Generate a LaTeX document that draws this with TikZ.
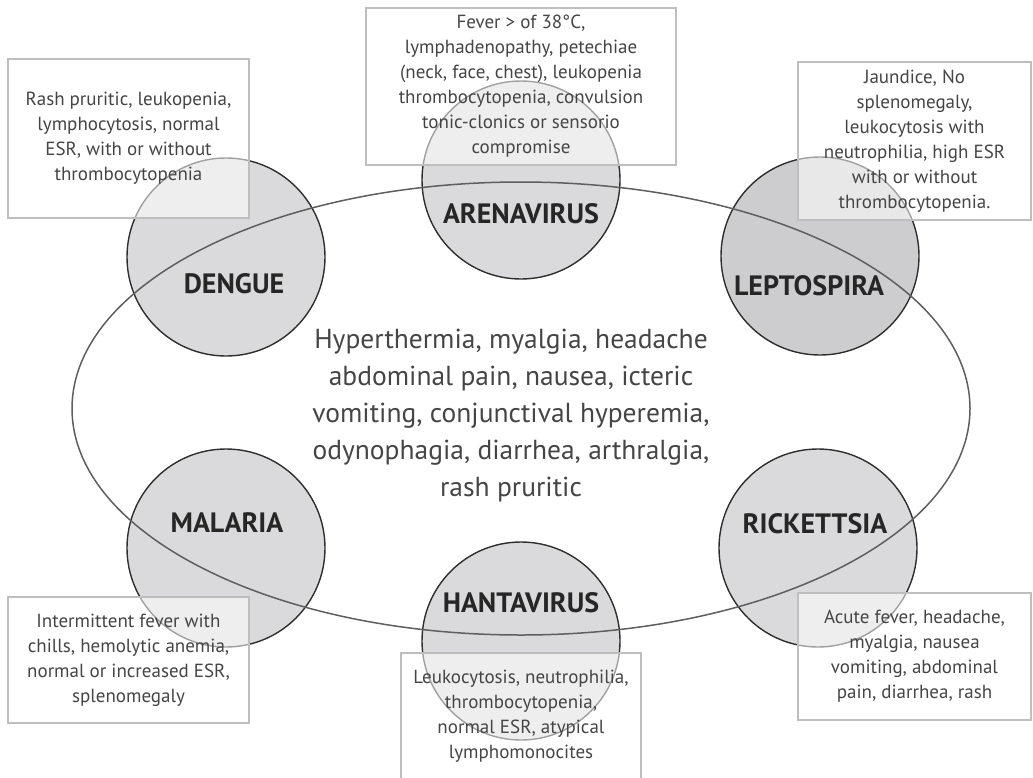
\documentclass[tikz,border=0pt]{standalone}
\usepackage{fontspec}
\setmainfont{PT Sans}
\usetikzlibrary{positioning}

\definecolor{discfill}{HTML}{DADADC}
\definecolor{leptofill}{HTML}{CDCDCF}
\definecolor{rimgrey}{HTML}{2E2E2E}
\definecolor{ovalgrey}{HTML}{5E5E5E}
\definecolor{framegrey}{HTML}{BEBEBE}
\definecolor{inkgrey}{HTML}{454545}

\tikzset{
  disc/.style={circle, draw=rimgrey, line width=1.4pt, fill=discfill,
    minimum size=198pt, inner sep=0pt},
  tag/.style={font=\fontsize{28}{32}\selectfont\bfseries, text=black!85},
  infobox/.style={draw=framegrey, line width=1.2pt, fill=white,
    fill opacity=0.55, text opacity=1, text=inkgrey, align=center,
    font=\fontsize{19}{25}\selectfont, inner sep=0pt},
}

\begin{document}
\begin{tikzpicture}[x=1pt, y=-1pt]
  \useasboundingbox (0,0) rectangle (1033,777);

  % the six agents
  \node[disc] (dengue) at (226,257) {};
  \node[disc] (arena) at (521,180) {};
  \node[disc, fill=leptofill] (lepto) at (820,256) {};
  \node[disc] (malaria) at (226,548) {};
  \node[disc] (hanta) at (521,641) {};
  \node[disc] (ricket) at (818,548) {};

  % shared symptoms
  \draw[ovalgrey, line width=1.5pt] (521,408.5) ellipse [x radius=449pt, y radius=226.5pt];
  \node[font=\fontsize{27.5}{37}\selectfont, text=inkgrey, align=center] (common) at (511,416)
    {Hyperthermia, myalgia, headache\\
     abdominal pain, nausea, icteric\\
     vomiting, conjunctival hyperemia,\\
     odynophagia, diarrhea, arthralgia,\\
     rash pruritic};

  \node[tag] (denguetag) at (234,284) {DENGUE};
  \node[tag] (arenatag) at (521,214) {ARENAVIRUS};
  \node[tag] (leptotag) at (809,286) {LEPTOSPIRA};
  \node[tag] (malariatag) at (227,523) {MALARIA};
  \node[tag] (hantatag) at (521,603) {HANTAVIRUS};
  \node[tag] (ricketag) at (815,524) {RICKETTSIA};

  % findings for each agent
  \node[infobox, minimum width=241pt, minimum height=159pt] (dengueinfo) at (128.5,138.5)
    {Rash pruritic, leukopenia,\\ lymphocytosis, normal\\ ESR, with or without\\ thrombocytopenia};
  \node[infobox, minimum width=310pt, minimum height=157pt] (arenainfo) at (521,86.5)
    {Fever > of 38\textdegree C,\\ lymphadenopathy, petechiae\\ (neck, face, chest), leukopenia\\
     thrombocytopenia, convulsion\\ tonic-clonics or sensorio\\ compromise};
  \node[infobox, minimum width=233pt, minimum height=158pt] (leptoinfo) at (914.5,141)
    {Jaundice, No\\ splenomegaly,\\ leukocytosis with\\ neutrophilia, high ESR\\
     with or without\\ thrombocytopenia.};
  \node[infobox, minimum width=241pt, minimum height=126pt] (malariainfo) at (128.5,660)
    {Intermittent fever with\\ chills, hemolytic anemia,\\ normal or increased ESR,\\ splenomegaly};
  \node[infobox, minimum width=240pt, minimum height=126pt] (hantainfo) at (521,716)
    {Leukocytosis, neutrophilia,\\ thrombocytopenia,\\ normal ESR, atypical\\ lymphomonocites};
  \node[infobox, minimum width=233pt, minimum height=127pt] (ricketinfo) at (914.5,656.5)
    {Acute fever, headache,\\ myalgia, nausea\\ vomiting, abdominal\\ pain, diarrhea, rash};
\end{tikzpicture}
\end{document}
